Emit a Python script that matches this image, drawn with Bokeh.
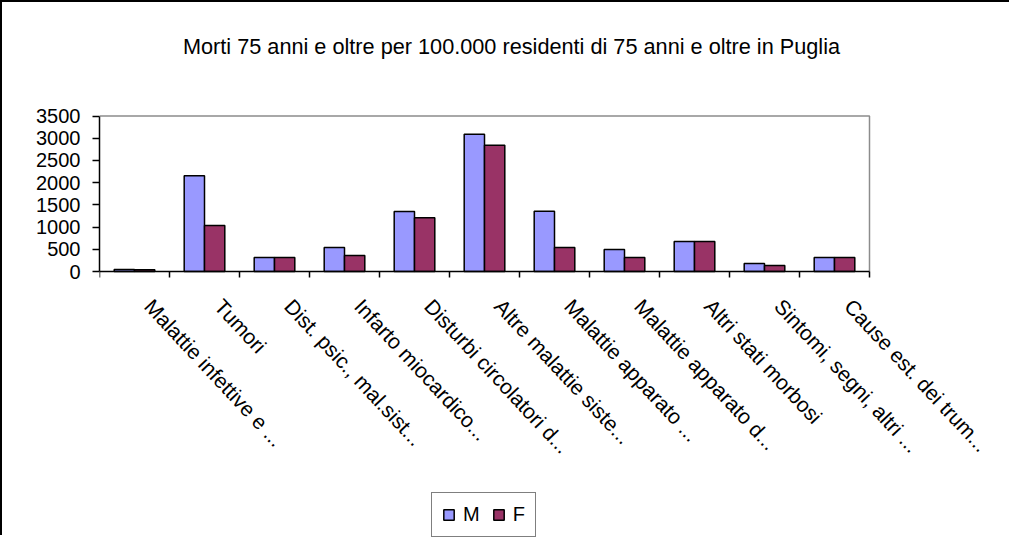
import math
from bokeh.plotting import figure
from bokeh.models import (FixedTicker, Legend, LegendItem, Label, Range1d,
                          CustomJSTickFormatter)
from bokeh.embed import file_html
from bokeh.resources import INLINE

title_text = "Morti 75 anni e oltre per 100.000 residenti di 75 anni e oltre in Puglia"
categories = [
    "Malattie infettive e ...",
    "Tumori",
    "Dist. psic., mal.sist...",
    "Infarto miocardico...",
    "Disturbi circolatori d...",
    "Altre malattie siste...",
    "Malattie apparato ...",
    "Malattie apparato d...",
    "Altri stati morbosi",
    "Sintomi, segni, altri ...",
    "Cause est. dei trum...",
]
male = [45, 2155, 315, 540, 1350, 3090, 1355, 495, 675, 180, 315]
female = [40, 1035, 315, 360, 1210, 2840, 540, 315, 675, 135, 315]
y_ticks = [0, 500, 1000, 1500, 2000, 2500, 3000, 3500]
y_max = 3500

FONT = "Liberation Sans"

# layout (canvas pixels): canvas is 1009 x 535, plot area spans x 97..867, y 113.5..269
W, H = 1009, 535
AX_LEFT, AX_RIGHT, AX_TOP, AX_BOTTOM = 97, 867, 113.5, 269
n = len(categories)
px_per_cat = (AX_RIGHT - AX_LEFT) / n
px_per_val = (AX_BOTTOM - AX_TOP) / y_max
x_end = (W - AX_LEFT) / px_per_cat
y_start = -(H - AX_BOTTOM) / px_per_val
y_end = y_max + AX_TOP / px_per_val

p = figure(width=W, height=H, output_backend="svg", toolbar_location=None,
           x_range=Range1d(0, x_end), y_range=Range1d(y_start, y_end),
           min_border_left=AX_LEFT, min_border_right=0, min_border_top=0,
           min_border_bottom=0)
p.styles = {"border-top": "2px solid black", "border-left": "2px solid black"}
p.background_fill_color = "white"
p.border_fill_color = "white"
p.outline_line_color = None
p.xgrid.visible = False
p.ygrid.visible = False

# plot-area outline (top and right, grey)
p.line(x=[0, n, n], y=[y_max, y_max, 0], line_color="#8c8c8c", line_width=1.5)

centers = [i + 0.5 for i in range(n)]
bw = 0.29
xm = [c - bw / 2 for c in centers]
xf = [c + bw / 2 for c in centers]
rm = p.vbar(x=xm, top=male, width=bw, bottom=0, fill_color="#9999FF",
            line_color="black", line_width=1.5)
rf = p.vbar(x=xf, top=female, width=bw, bottom=0, fill_color="#993366",
            line_color="black", line_width=1.5)

# y axis
p.yaxis.bounds = (0, y_max)
p.yaxis.ticker = FixedTicker(ticks=y_ticks)
p.yaxis.axis_line_color = "black"
p.yaxis.axis_line_width = 1.5
p.yaxis.major_tick_out = 7
p.yaxis.major_tick_in = 0
p.yaxis.major_tick_line_color = "black"
p.yaxis.major_tick_line_width = 1.5
p.yaxis.minor_tick_line_color = None
p.yaxis.major_label_text_font = FONT
p.yaxis.major_label_text_font_size = "20px"
p.yaxis.major_label_text_color = "black"
p.yaxis.major_label_standoff = 12

# x axis at y = 0: labels (major ticks, invisible) and boundary tick marks (minor)
label_shift = 0.2
p.xaxis.fixed_location = 0
p.xaxis.bounds = (0, n)
p.xaxis.ticker = FixedTicker(ticks=[c + label_shift for c in centers],
                             minor_ticks=list(range(n + 1)))
p.xaxis.formatter = CustomJSTickFormatter(args=dict(labels=categories),
                                          code="return labels[Math.floor(tick)];")
p.xaxis.axis_line_color = "black"
p.xaxis.axis_line_width = 1.5
p.xaxis.major_tick_out = 0
p.xaxis.major_tick_in = 0
p.xaxis.major_tick_line_color = None
p.xaxis.minor_tick_out = 6
p.xaxis.minor_tick_in = 0
p.xaxis.minor_tick_line_color = "black"
p.xaxis.minor_tick_line_width = 1.5
p.xaxis.major_label_orientation = -0.82
p.xaxis.major_label_text_font = FONT
p.xaxis.major_label_text_font_size = "21px"
p.xaxis.major_label_text_color = "black"
p.xaxis.major_label_standoff = 25

title = Label(x=412, y=H - 44, x_units="screen", y_units="screen", text=title_text,
              text_font=FONT, text_font_size="21.7px", text_align="center",
              text_baseline="middle", text_color="black")
p.add_layout(title)

legend = Legend(items=[LegendItem(label="M", renderers=[rm]),
                       LegendItem(label="F", renderers=[rf])],
                orientation="horizontal", location=(332, 0),
                glyph_width=13, glyph_height=13, label_standoff=8, spacing=12,
                padding=10, margin=0, label_width=10,
                label_text_font=FONT, label_text_font_size="20px",
                label_text_color="black",
                border_line_color="black", border_line_width=1.5,
                background_fill_color="white", background_fill_alpha=1)
p.add_layout(legend)

open("out.html", "w").write(file_html(p, INLINE))
